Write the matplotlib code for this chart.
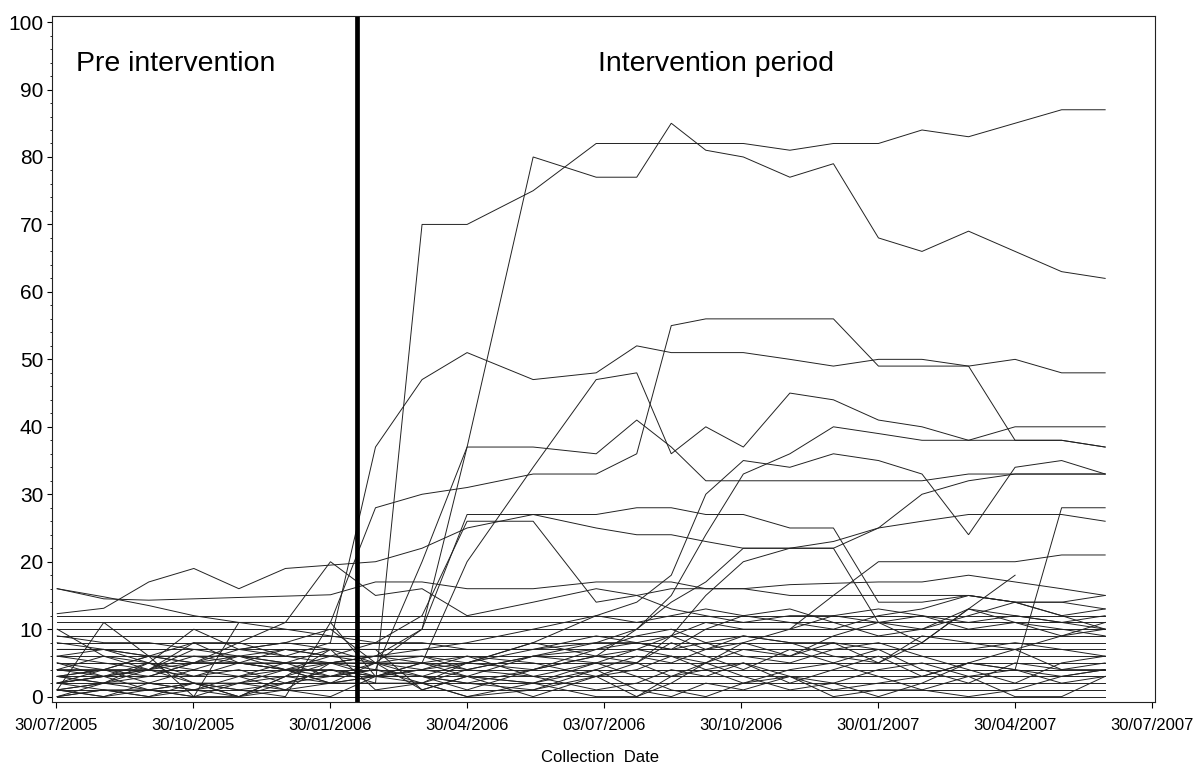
import matplotlib
matplotlib.use('Agg')
import matplotlib.pyplot as plt
import matplotlib.dates as mdates
import numpy as np
from matplotlib.ticker import MultipleLocator

plt.rcParams['font.family'] = ['Liberation Sans', 'DejaVu Sans']

# collection dates (one per sampling round)
collection_dates = ['2005-07-31', '2005-08-31', '2005-09-30', '2005-10-30', '2005-11-29',
                    '2005-12-30', '2006-01-29', '2006-02-28', '2006-03-31', '2006-04-30',
                    '2006-06-13', '2006-07-25', '2006-08-21', '2006-09-13', '2006-10-06',
                    '2006-10-31', '2006-12-01', '2006-12-30', '2007-01-29', '2007-02-27',
                    '2007-03-30', '2007-04-30', '2007-05-31', '2007-06-29']

intervention_date = '2006-02-16'

tick_labels = ['30/07/2005', '30/10/2005', '30/01/2006', '30/04/2006', '03/07/2006',
               '30/10/2006', '30/01/2007', '30/04/2007', '30/07/2007']

# series that rise clearly after the intervention
s01 = [3, 2, 1, 0, 2, 3, 2, 2, 70, 70, 75, 82, 82, 82, 82, 82, 81, 82, 82, 84, 83, 85, 87, 87]
s02 = [2, 3, 3, 5, 5, 4, 6, 5, 10, 37, 80, 77, 77, 85, 81, 80, 77, 79, 68, 66, 69, 66, 63, 62]
s03 = [5, 4, 6, 8, 8, 6, 8, 37, 47, 51, 47, 48, 52, 51, 51, 51, 50, 49, 50, 50, 49, 50, 48, 48]
s04 = [1, 0, 2, 4, 3, 1, 5, 3, 5, 20, 34, 47, 48, 36, 40, 37, 45, 44, 41, 40, 38, 40, 40, 40]
s05 = [0, 1, 0, 2, 1, 0, 11, 28, 30, 31, 33, 33, 36, 55, 56, 56, 56, 56, 49, 49, 49, 38, 38, 37]
s06 = [12.3, 13.1, 17, 19, 16, 19, 19.5, 20, 22, 25, 27, 25, 24, 24, 23, 22, 22, 23, 25, 26, 27, 27, 27, 26]
s07 = [4, 3, 5, 4, 6, 5, 5, 6, 10, 27, 27, 27, 28, 28, 27, 27, 25, 25, 14, 14, 15, 14, 14, 15]
s08 = [7, 7, 6, 6, 5, 7, 6, 8, 12, 26, 26, 14, 15, 16, 16, 16, 16.6, 16.8, 17, 17, 18, 17, 16, 15]
s10 = [3, 4, 2, 1, 3, 5, 3, 4, 20, 37, 37, 36, 41, 37, 32, 32, 32, 32, 32, 32, 33, 33, 33, 33]
s11 = [16, 14.8, 13.5, 12, 11, 10, 9, 8, 8, 7, 7, 8, 8, 7, 8, 9, 8, 8, 7, 7, 7, 8, 7, 6]
s12 = [16, 14.5, 14.3, 14.5, 14.7, 14.9, 15.1, 17, 17, 16, 16, 17, 17, 17, 16, 16, 15, 15, 15, 15, 15, 14, 14, 13]
s13 = [1, 2, 3, 3, 4, 2, 3, 4, 2, 5, 8, 12, 14, 18, 30, 35, 34, 36, 35, 33, 24, 34, 35, 33]
s14 = [6, 5, 4, 3, 3, 4, 4, 3, 3, 1, 4, 6, 10, 15, 24, 33, 36, 40, 39, 38, 38, 38, 38, 37]
s15 = [2, 3, 4, 7, 6, 4, 2, 5, 4, 3, 6, 8, 10, 14, 17, 22, 22, 22, 25, 30, 32, 33, 33, 33]
s16 = [9, 8, 8, 7, 7, 8, 7, 7, 1, 3, 2, 5, 5, 9, 15, 20, 22, 22, 11, 10, 13, 12, 11, 10]
s17 = [1, 0, 1, 2, 1, 2, 4, 2, 2, 4, 3, 5, 7, 6, 4, 5, 3, 2, 4, 5, 3, 4, 28, 28]
s18 = [4, 4, 3, 5, 5, 5, 7, 5, 5, 4, 6, 7, 8, 9, 11, 10, 10, 15, 20, 20, 20, 20, 21, 21]
s19 = [0, 1, 0, 1, 2, 1, 2, 3, 3, 2, 1, 4, 6, 5, 7, 9, 8, 6, 5, 8, 13, 18, None, None]
s20 = [2, 4, 6, 5, 8, 11, 20, 15, 16, 12, 14, 16, 15, 13, 12, 11, 12, 12, 13, 12, 11, 12, 11, 12]

# low level series
w01 = [10, 6, 4, 2, 0, 3, 5, 4, 3, 2, 4, 6, 5, 3, 5, 7, 6, 8, 5, 9, 8, 7, 9, 10]
w02 = [5, 3, 1, 0, 0, 2, 4, 3, 5, 6, 3, 1, 2, 4, 3, 5, 2, 4, 6, 3, 5, 4, 3, 4]
w03 = [0, 2, 5, 10, 7, 6, 5, 6, 5, 3, 0, 3, 5, 8, 6, 4, 7, 5, 7, 4, 2, 5, 4, 4]
w04 = [1, 11, 6, 0, 11, 11, 11, 3, 2, 0, 2, 4, 1, 0, 2, 1, 3, 0, 1, 1, 3, 0, 0, 3]
w05 = [3, 2, 4, 8, 5, 4, 2, 3, 4, 6, 5, 3, 0, 2, 5, 8, 6, 9, 11, 12, 10, 11, 10, 9]
w06 = [2, 3, 4, 5, 7, 8, 10, 5, 3, 5, 7, 9, 8, 7, 10, 12, 13, 11, 9, 10, 12, 14, 12, 10]
w07 = [4, 6, 5, 2, 0, 3, 7, 1, 2, 0, 1, 3, 4, 6, 5, 3, 1, 2, 0, 2, 5, 7, 4, 5]
w08 = [1, 2, 2, 1, 0, 1, 0, 3, 4, 5, 8, 6, 7, 9, 7, 8, 10, 12, 11, 8, 13, 11, 9, 11]
w09 = [8, 7, 6, 5, 6, 7, 6, 6, 6, 5, 4, 7, 9, 10, 8, 6, 5, 7, 8, 6, 4, 2, 5, 6]
w10 = [3, 4, 4, 6, 6, 5, 5, 6, 7, 8, 10, 12, 11, 12, 13, 12, 11, 10, 12, 13, 15, 14, 12, 13]
w11 = [6, 7, 5, 3, 5, 4, 3, 5, 1, 3, 2, 0, 0, 3, 4, 2, 4, 5, 3, 1, 0, 1, 3, 4]
w12 = [2, 1, 1, 2, 2, 4, 5, 5, 6, 4, 6, 5, 3, 1, 0, 2, 3, 1, 2, 3, 5, 4, 2, 3]

# units whose count stayed the same at every collection
constant_levels = [0, 1, 2, 3, 4, 5, 6, 7, 8, 9, 10, 11, 12]

series = [s01, s02, s03, s04, s05, s06, s07, s08, s10, s11, s12, s13, s14, s15, s16,
          s17, s18, s19, s20, w01, w02, w03, w04, w05, w06, w07, w08, w09, w10, w11, w12]
series += [[c] * len(collection_dates) for c in constant_levels]

dates = np.array(collection_dates, dtype='datetime64[D]')

fig = plt.figure(figsize=(11.93, 7.65), dpi=100)
ax = fig.add_axes([0.0433, 0.0824, 0.9246, 0.8967])

for s in series:
    y = np.array([np.nan if v is None else v for v in s], dtype=float)
    m = ~np.isnan(y)
    ax.plot(dates[m], y[m], color='#222222', linewidth=0.7, solid_joinstyle='miter')

# intervention start
ax.axvline(np.datetime64(intervention_date), color='black', linewidth=3.4)

base = mdates.date2num(np.datetime64('2005-07-30'))
ticks = base + np.arange(len(tick_labels)) * 91.25
ax.set_xticks(ticks)
ax.set_xticklabels(tick_labels, fontsize=12)
ax.set_xlim(base - 2.7, base + 732)

ax.set_ylim(-0.79, 100.9)
ax.set_yticks(np.arange(0, 101, 10))
ax.yaxis.set_minor_locator(MultipleLocator(2))
ax.tick_params(axis='y', which='major', labelsize=15, length=3.6, pad=2.5, width=0.8)
ax.tick_params(axis='y', which='minor', length=1.8, width=0.6)
ax.tick_params(axis='x', which='major', length=4.3, pad=7.5, width=0.8)

for sp in ax.spines.values():
    sp.set_linewidth(0.8)
    sp.set_color('#222222')

ax.text(base + 13.5, 92.8, 'Pre intervention', fontsize=20.5, ha='left', va='baseline')
ax.text(base + 361, 92.8, 'Intervention period', fontsize=20.5, ha='left', va='baseline')

fig.text(0.503, 0.0095, 'Collection  Date', fontsize=12, ha='center', va='center')

fig.savefig('out.png', dpi=100)
